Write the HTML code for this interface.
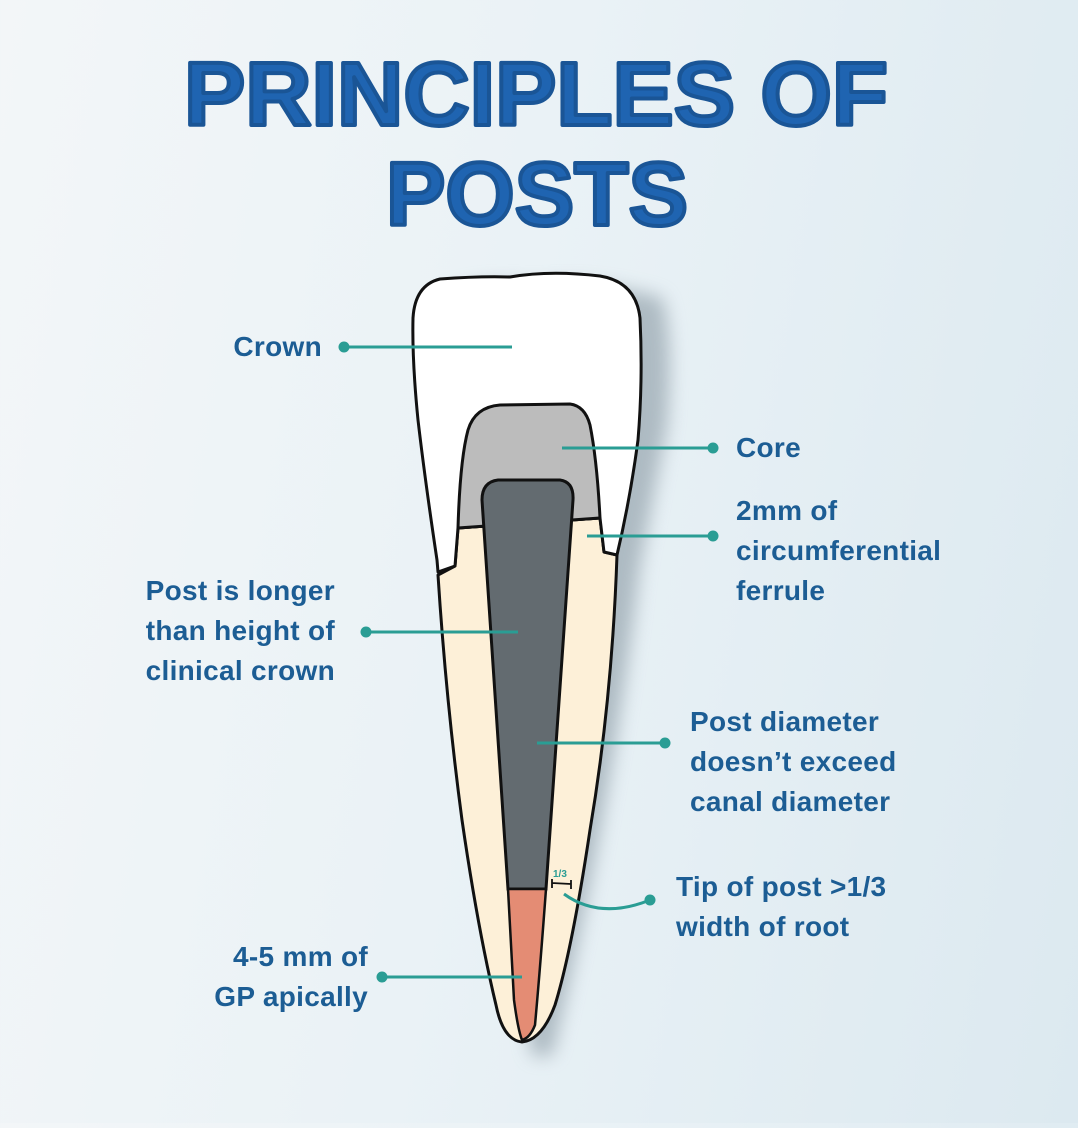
<!DOCTYPE html>
<html><head><meta charset="utf-8">
<style>
html,body{margin:0;padding:0}
body{width:1078px;height:1123px;overflow:hidden;background:linear-gradient(100deg,#f3f6f8 0%,#eaf2f6 45%,#dce9f0 100%);font-family:"Liberation Sans",sans-serif}
</style></head><body>
<svg width="1078" height="1123" viewBox="0 0 1078 1123" xmlns="http://www.w3.org/2000/svg">
<defs>
<filter id="sh" x="-30%" y="-10%" width="160%" height="130%"><feGaussianBlur stdDeviation="9"/></filter>
</defs>
<g font-family="Liberation Sans, sans-serif" font-weight="bold" fill="#1f64b1" stroke="#1a5596" stroke-width="4" stroke-linejoin="round">
<text x="184" y="125" font-size="90" textLength="704" lengthAdjust="spacingAndGlyphs">PRINCIPLES OF</text>
<text x="386" y="225" font-size="90" textLength="302" lengthAdjust="spacingAndGlyphs">POSTS</text>
</g>
<path d="M428,290 Q470,272 520,280 Q580,272 650,292 Q662,330 655,420 L628,560 Q600,800 540,1050 L520,1050 Q480,800 440,575Z" fill="#7f8f9a" opacity="0.55" filter="url(#sh)" transform="translate(12,6)"/>
<path d="M455,566 L458,528 L600,518 L604,552 L617,555 Q612,700 590,830 Q572,950 555,1005 Q542,1040 522,1042 Q503,1040 496,1005 Q478,930 462,820 Q446,700 438,575 Z" fill="#fdf0d8" stroke="#111" stroke-width="3" stroke-linejoin="round"/>
<path d="M455,566 L438,572 L437,560 Q425,480 418,420 Q412,360 413,318 Q415,285 440,279 Q480,276 510,277 Q550,270 600,276 Q636,282 640,318 Q643,380 638,440 Q630,500 617,555 L604,552 L600,518 L458,528Z" fill="#fff" stroke="#111" stroke-width="3" stroke-linejoin="round"/>
<path d="M458,528 Q460,460 468,430 Q475,407 500,405 L570,404 Q585,406 590,425 Q597,460 600,518Z" fill="#bcbcbc" stroke="#111" stroke-width="3"/>
<path d="M482,500 Q482,482 498,480 L560,480 Q574,482 573,500 L546,889 L508,889Z" fill="#636b70" stroke="#111" stroke-width="3"/>
<path d="M508,889 L546,889 Q540,970 535,1025 Q530,1038 522,1040 Q518,1030 514,1000Z" fill="#e48c74" stroke="#111" stroke-width="2.5"/>
<path d="M552,883 L571,884 M552,879 L552,888 M571,880 L571,889" stroke="#111" stroke-width="1.8"/>
<text x="553" y="877" font-size="10" font-weight="bold" fill="#2a9d94" font-family="Liberation Sans, sans-serif">1/3</text>
<g stroke="#2a9d94" stroke-width="3" fill="none">
<line x1="344" y1="347" x2="512" y2="347"/>
<line x1="562" y1="448" x2="713" y2="448"/>
<line x1="587" y1="536" x2="713" y2="536"/>
<line x1="366" y1="632" x2="518" y2="632"/>
<line x1="537" y1="743" x2="665" y2="743"/>
<path d="M564,894 Q600,920 650,900"/>
<line x1="382" y1="977" x2="522" y2="977"/>
</g>
<g fill="#2a9d94">
<circle cx="344" cy="347" r="5.5"/><circle cx="713" cy="448" r="5.5"/><circle cx="713" cy="536" r="5.5"/>
<circle cx="366" cy="632" r="5.5"/><circle cx="665" cy="743" r="5.5"/><circle cx="650" cy="900" r="5.5"/>
<circle cx="382" cy="977" r="5.5"/>
</g>
<g font-family="Liberation Sans, sans-serif" font-weight="bold" font-size="28" letter-spacing="0.3" fill="#1c5d94">
<text x="322" y="356" text-anchor="end">Crown</text>
<text x="736" y="457">Core</text>
<text x="736" y="520">2mm of</text>
<text x="736" y="560">circumferential</text>
<text x="736" y="600">ferrule</text>
<text x="335" y="600" text-anchor="end">Post is longer</text>
<text x="335" y="640" text-anchor="end">than height of</text>
<text x="335" y="680" text-anchor="end">clinical crown</text>
<text x="690" y="731">Post diameter</text>
<text x="690" y="771">doesn’t exceed</text>
<text x="690" y="811">canal diameter</text>
<text x="676" y="896">Tip of post &gt;1/3</text>
<text x="676" y="936">width of root</text>
<text x="368" y="966" text-anchor="end">4-5 mm of</text>
<text x="368" y="1006" text-anchor="end">GP apically</text>
</g>
</svg>
</body></html>
